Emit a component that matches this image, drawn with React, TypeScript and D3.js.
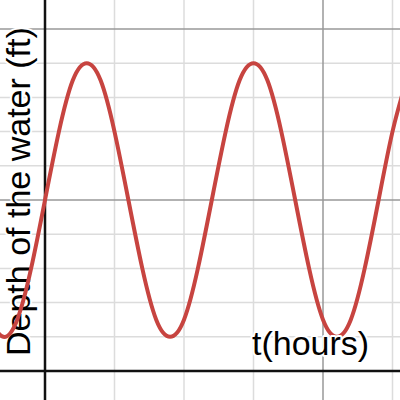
import * as d3 from "d3";
import { useEffect, useRef } from "react";

// readings: depth (ft) against time (hours)
const hours = [-4, -3, -2, -1, 0, 1, 2, 3, 4, 5, 6, 7, 8, 9, 10, 11, 12, 13, 14, 15, 16, 17, 18, 19, 20, 21, 22, 23, 24, 25, 26];
const depth = [1.5, 1, 1.5, 3, 5, 7, 8.5, 9, 8.5, 7, 5, 3, 1.5, 1, 1.5, 3, 5, 7, 8.5, 9, 8.5, 7, 5, 3, 1.5, 1, 1.5, 3, 5, 7, 8.5];

const xMinor = [5, 10, 15, 25];
const xMajor = [20];
const yMinor = [1, 2, 3, 4, 6, 7, 8, 9];
const yMajor = [5, 10];

const xLabel = "t(hours)";
const yLabel = "Depth of the water (ft)";

export default function App() {
    const svgRef = useRef<SVGSVGElement | null>(null);

    useEffect(() => {
        if (!svgRef.current) return;
        const W = 400;
        const H = 400;
        const svg = d3.select(svgRef.current);
        svg.selectAll("*").remove();

        const x = d3.scaleLinear().domain([-45 / 13.9, 355 / 13.9]).range([0, W]);
        const y = d3.scaleLinear().domain([-29 / 34.2, 371 / 34.2]).range([H, 0]);

        const g = svg.append("g");

        g.selectAll(".vminor")
            .data(xMinor)
            .join("line")
            .attr("x1", (d) => x(d))
            .attr("x2", (d) => x(d))
            .attr("y1", 0)
            .attr("y2", H)
            .attr("stroke", "#dcdcdc")
            .attr("stroke-width", 1.5);

        g.selectAll(".hminor")
            .data(yMinor)
            .join("line")
            .attr("x1", 0)
            .attr("x2", W)
            .attr("y1", (d) => y(d))
            .attr("y2", (d) => y(d))
            .attr("stroke", "#dcdcdc")
            .attr("stroke-width", 1.5);

        g.selectAll(".vmajor")
            .data(xMajor)
            .join("line")
            .attr("x1", (d) => x(d))
            .attr("x2", (d) => x(d))
            .attr("y1", 0)
            .attr("y2", H)
            .attr("stroke", "#999")
            .attr("stroke-width", 1.5);

        g.selectAll(".hmajor")
            .data(yMajor)
            .join("line")
            .attr("x1", 0)
            .attr("x2", W)
            .attr("y1", (d) => y(d))
            .attr("y2", (d) => y(d))
            .attr("stroke", "#999")
            .attr("stroke-width", 1.5);

        // axes
        g.append("line")
            .attr("x1", x(0))
            .attr("x2", x(0))
            .attr("y1", 0)
            .attr("y2", H)
            .attr("stroke", "#111")
            .attr("stroke-width", 2.5);
        g.append("line")
            .attr("x1", 0)
            .attr("x2", W)
            .attr("y1", y(0))
            .attr("y2", y(0))
            .attr("stroke", "#111")
            .attr("stroke-width", 2.5);

        const font = "'Liberation Sans', Arial, sans-serif";

        g.append("text")
            .attr("transform", `translate(29.5,356) rotate(-90)`)
            .attr("font-family", font)
            .attr("font-size", 34)
            .attr("fill", "#000")
            .attr("stroke", "#fff")
            .attr("stroke-width", 4)
            .attr("stroke-linejoin", "round")
            .attr("paint-order", "stroke")
            .text(yLabel);

        const line = d3
            .line<number>()
            .x((d, i) => x(hours[i]))
            .y((d) => y(d))
            .curve(d3.curveNatural);

        g.append("path")
            .datum(depth)
            .attr("fill", "none")
            .attr("stroke", "#c74440")
            .attr("stroke-width", 4)
            .attr("stroke-linecap", "round")
            .attr("d", line);

        g.append("text")
            .attr("x", 252)
            .attr("y", 355)
            .attr("font-family", font)
            .attr("font-size", 34)
            .attr("fill", "#000")
            .attr("stroke", "#fff")
            .attr("stroke-width", 4)
            .attr("stroke-linejoin", "round")
            .attr("paint-order", "stroke")
            .text(xLabel);
    }, []);

    return (
        <svg
            ref={svgRef}
            width={400}
            height={400}
            style={{ position: "absolute", left: 0, top: 0, background: "#fff" }}
        />
    );
}
